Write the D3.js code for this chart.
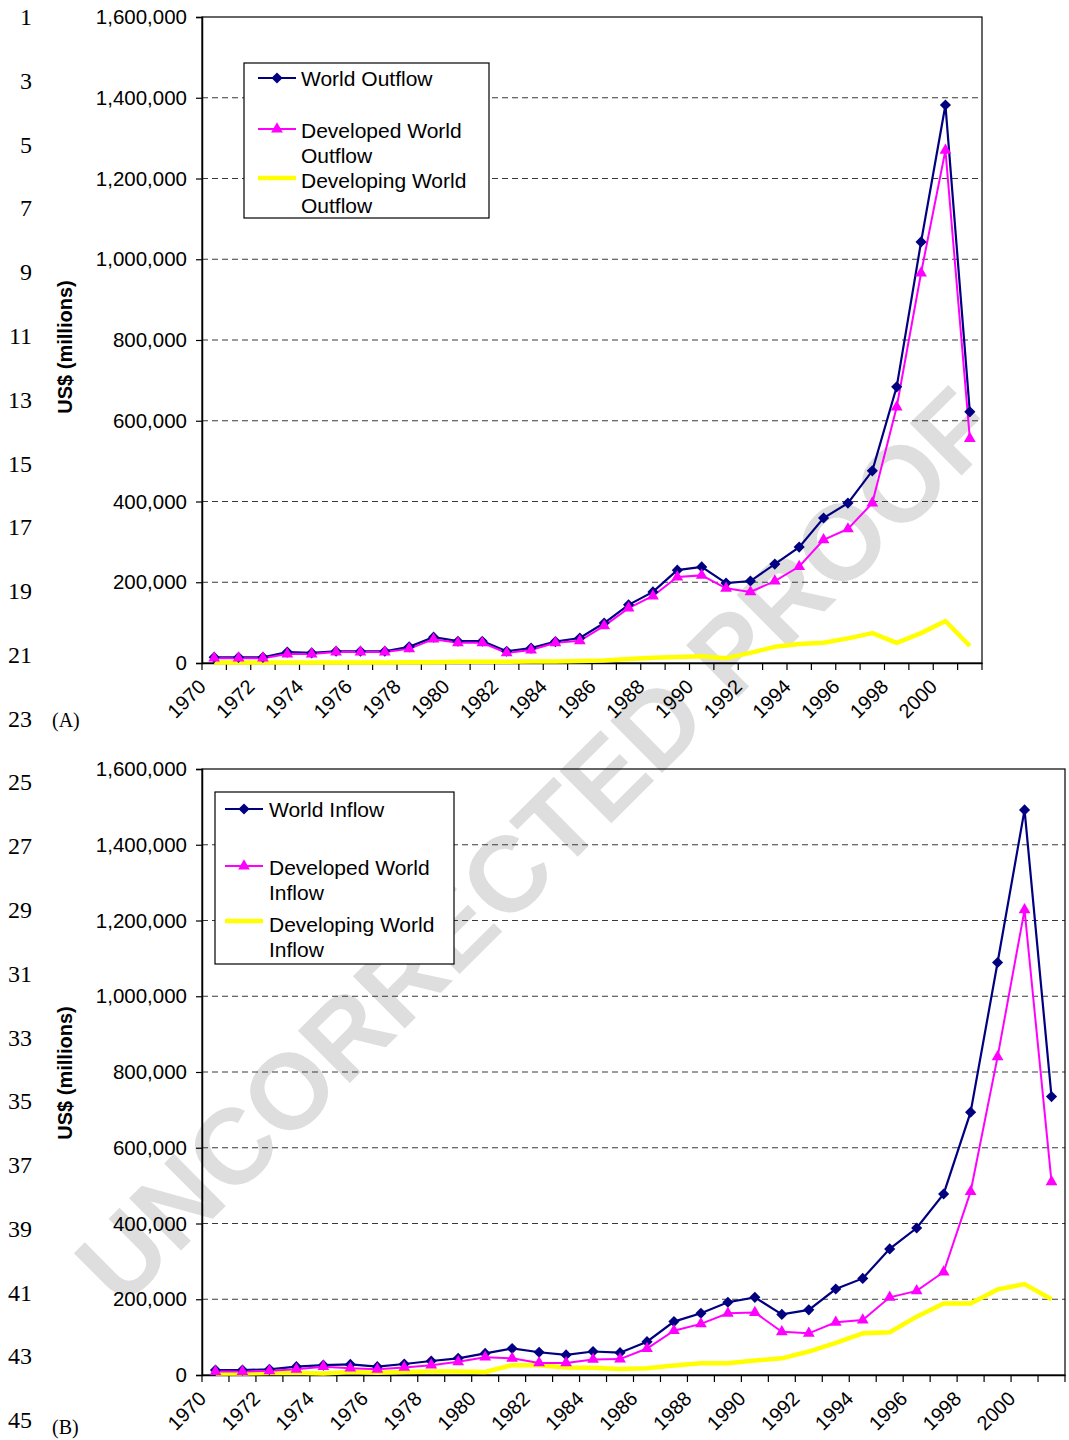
<!DOCTYPE html>
<html><head><meta charset="utf-8">
<script src="https://cdn.jsdelivr.net/npm/d3@7"></script>
<style>body{margin:0;background:#fff} svg{display:block}</style>
</head><body><svg id="c" width="1069" height="1440"></svg>
<script>
// ---------- DATA ----------
const years = [1970,1971,1972,1973,1974,1975,1976,1977,1978,1979,
               1980,1981,1982,1983,1984,1985,1986,1987,1988,1989,
               1990,1991,1992,1993,1994,1995,1996,1997,1998,1999,
               2000,2001];
const xLabelYears = [1970,1972,1974,1976,1978,1980,1982,1984,1986,1988,1990,1992,1994,1996,1998,2000];
const yTicks = [0,200000,400000,600000,800000,1000000,1200000,1400000,1600000];
const gridValues = [200000,400000,600000,800000,1000000,1200000,1400000];

// Panel A: outflows (US$ millions)
const worldOutflow = [14000,14000,14000,27000,25000,29000,29000,29000,40000,64000,
                      54000,54000,29000,37000,53000,62000,99000,144000,176000,230000,
                      238000,198000,203000,245000,287000,359000,396000,476000,684000,1043000,
                      1382000,622000];
const developedOutflow = [12000,12000,12000,22000,22000,27000,27000,27000,35000,59000,
                          50000,50000,25000,32000,50000,55000,92000,136000,166000,213000,
                          217000,185000,176000,203000,239000,305000,332000,396000,634000,966000,
                          1270000,556000];
const developingOutflow = [1000,1000,1000,1000,1000,1500,1500,1500,2000,2000,
                           3000,3000,3000,3500,4000,5000,6000,10000,13000,15000,
                           17000,12000,25000,40000,47000,50000,61000,74000,50000,74000,
                           104000,42000];

// Panel B: inflows (US$ millions)
const worldInflow = [13000,13000,15000,22000,26000,28000,22000,29000,37000,44000,
                     57000,70000,60000,53000,62000,59000,88000,141000,163000,192000,
                     205000,160000,172000,227000,255000,333000,388000,478000,694000,1089000,
                     1492000,735000];
const developedInflow = [9000,9000,11000,15000,22000,18000,15000,20000,26000,35000,
                         47000,44000,32000,32000,41000,42000,70000,117000,135000,163000,
                         165000,114000,110000,139000,145000,205000,222000,272000,484000,840000,
                         1228000,510000];
const developingInflow = [4000,4000,5000,6000,4000,8000,6000,8000,9000,9000,
                          8000,26000,26000,20000,19000,16000,18000,25000,31000,31000,
                          38000,44000,62000,85000,110000,113000,154000,189000,189000,226000,
                          240000,200000];

const lineNumbers = [1,3,5,7,9,11,13,15,17,19,21,23,25,27,29,31,33,35,37,39,41,43,45];
const panelLabels = ["(A)","(B)"];
const legendA = ["World Outflow", ["Developed World","Outflow"], ["Developing World","Outflow"]];
const legendB = ["World Inflow", ["Developed World","Inflow"], ["Developing World","Inflow"]];

// ---------- DRAW ----------
const SANS = "'Liberation Sans', Arial, Helvetica, sans-serif";
const SERIF = "'Liberation Serif', 'Times New Roman', serif";
const NAVY = "#000080", MAG = "#FF00FF", YEL = "#FFFF00";
const svg = d3.select("#c");

// watermark
svg.append("text")
  .attr("transform","translate(536,846) rotate(-44.8)")
  .attr("text-anchor","middle").attr("dominant-baseline","central")
  .style("font-family",SANS).style("font-weight","bold").style("font-size","107px")
  .attr("fill","#dedede")
  .text("UNCORRECTED PROOF");

// line numbers
const ln = d3.scaleLinear().domain([1,45]).range([17,1420]);
svg.append("g").selectAll("text").data(lineNumbers).join("text")
  .attr("x",32).attr("y",d=>ln(d)).attr("dy","0.34em")
  .attr("text-anchor","end")
  .style("font-family",SERIF).style("font-size","24px").attr("fill","#000")
  .text(d=>d);

function drawPanel(cfg){
  const x = d3.scaleBand().domain(years).range([cfg.left,cfg.right]);
  const bw = x.bandwidth();
  const y = d3.scaleLinear().domain([0,1600000]).range([cfg.bottom,cfg.top]);
  const g = svg.append("g");

  // grid
  g.selectAll("line.grid").data(gridValues).join("line")
    .attr("x1",cfg.left).attr("x2",cfg.right)
    .attr("y1",d=>y(d)).attr("y2",d=>y(d))
    .attr("stroke","#3a3a3a").attr("stroke-width",1).attr("stroke-dasharray","6,4");

  // frame
  g.append("rect").attr("x",cfg.left).attr("y",cfg.top)
    .attr("width",cfg.right-cfg.left).attr("height",cfg.bottom-cfg.top)
    .attr("fill","none").attr("stroke","#000").attr("stroke-width",1.2);

  // y axis
  const ya = g.append("g").attr("transform",`translate(${cfg.left},0)`)
    .call(d3.axisLeft(y).tickValues(yTicks).tickFormat(d3.format(",")).tickSize(6).tickPadding(9));
  ya.select(".domain").attr("stroke","#000").attr("stroke-width",1.5);
  ya.selectAll(".tick line").attr("stroke","#000").attr("stroke-width",1.2);
  ya.selectAll("text").style("font-family",SANS).style("font-size","20.5px").attr("fill","#000");

  // x axis with labels
  const xa = g.append("g").attr("transform",`translate(0,${cfg.bottom})`)
    .call(d3.axisBottom(x).tickValues(xLabelYears).tickSize(0).tickPadding(0));
  xa.select(".domain").attr("stroke","#000").attr("stroke-width",1.5);
  xa.selectAll("text")
    .attr("y",0).attr("dy","0.35em").attr("text-anchor","end")
    .attr("transform",`translate(${cfg.lblDx},${cfg.lblDy}) rotate(-45)`)
    .style("font-family",SANS).style("font-size","20px").attr("fill","#000");
  // category boundary ticks
  const bounds = years.map(d=>x(d)).concat([x.range()[1]]);
  g.append("g").selectAll("line").data(bounds).join("line")
    .attr("x1",d=>d).attr("x2",d=>d).attr("y1",cfg.bottom).attr("y2",cfg.bottom+7)
    .attr("stroke","#000").attr("stroke-width",1.2);

  // y title
  g.append("text").attr("transform",`translate(${cfg.titleX},${cfg.titleY}) rotate(-90)`)
    .attr("text-anchor","middle").attr("dominant-baseline","central")
    .style("font-family",SANS).style("font-weight","bold").style("font-size","20px")
    .text("US$ (millions)");

  // series
  const cx = (d,i)=>x(years[i])+bw/2;
  const line = d3.line().x(cx).y(d=>y(d));
  g.append("path").datum(cfg.dev).attr("d",line)
    .attr("fill","none").attr("stroke",YEL).attr("stroke-width",4.5).attr("stroke-linejoin","round");
  g.append("path").datum(cfg.world).attr("d",line)
    .attr("fill","none").attr("stroke",NAVY).attr("stroke-width",2.2);
  g.append("path").datum(cfg.developed).attr("d",line)
    .attr("fill","none").attr("stroke",MAG).attr("stroke-width",2);

  const diamond = d3.symbol().type(d3.symbolSquare).size(62)();
  const tri = d3.symbol().type(d3.symbolTriangle).size(60)();
  g.append("g").selectAll("path").data(cfg.world).join("path")
    .attr("d",diamond).attr("fill",NAVY)
    .attr("transform",(d,i)=>`translate(${cx(d,i)},${y(d)}) rotate(45)`);
  g.append("g").selectAll("path").data(cfg.developed).join("path")
    .attr("d",tri).attr("fill",MAG)
    .attr("transform",(d,i)=>`translate(${cx(d,i)},${y(d)})`);

  // legend
  const L = cfg.legend;
  const lg = g.append("g");
  lg.append("rect").attr("x",L.x).attr("y",L.y).attr("width",L.w).attr("height",L.h)
    .attr("fill","#fff").attr("stroke","#000").attr("stroke-width",1.2);
  const sx1 = L.x + L.s1, sx2 = L.x + L.s2, sm = (sx1+sx2)/2, tx = L.x + L.t;
  // entry 1
  lg.append("line").attr("x1",sx1).attr("x2",sx2).attr("y1",L.y1).attr("y2",L.y1).attr("stroke",NAVY).attr("stroke-width",2.2);
  lg.append("path").attr("d",diamond).attr("fill",NAVY).attr("transform",`translate(${sm},${L.y1}) rotate(45)`);
  // entry 2
  lg.append("line").attr("x1",sx1).attr("x2",sx2).attr("y1",L.y2).attr("y2",L.y2).attr("stroke",MAG).attr("stroke-width",2);
  lg.append("path").attr("d",tri).attr("fill",MAG).attr("transform",`translate(${sm},${L.y2})`);
  // entry 3
  lg.append("line").attr("x1",sx1).attr("x2",sx2).attr("y1",L.y3).attr("y2",L.y3).attr("stroke",YEL).attr("stroke-width",4.5);
  const texts = [[cfg.names[0],L.t1],[cfg.names[1][0],L.t2],[cfg.names[1][1],L.t2+25],[cfg.names[2][0],L.t3],[cfg.names[2][1],L.t3+25]];
  lg.selectAll("text").data(texts).join("text")
    .attr("x",tx).attr("y",d=>d[1]).attr("dy","0.36em")
    .style("font-family",SANS).style("font-size","21px").attr("fill","#000")
    .text(d=>d[0]);

  // panel label
  svg.append("text").attr("x",52).attr("y",cfg.plabelY)
    .style("font-family",SERIF).style("font-size","20px").text(cfg.plabel);
}

drawPanel({left:202,right:982,top:17,bottom:663,
  world:worldOutflow,developed:developedOutflow,dev:developingOutflow,
  names:legendA,titleX:65,titleY:347,lblDx:-12,lblDy:20,
  plabel:panelLabels[0],plabelY:727,
  legend:{x:244,y:63,w:245,h:155,s1:14,s2:52,t:57,y1:78,y2:129,y3:178,t1:78,t2:130,t3:180}});

drawPanel({left:202,right:1065,top:769,bottom:1375,
  world:worldInflow,developed:developedInflow,dev:developingInflow,
  names:legendB,titleX:65,titleY:1073,lblDx:-13,lblDy:20,
  plabel:panelLabels[1],plabelY:1434,
  legend:{x:215,y:792,w:239,h:172,s1:10,s2:48,t:54,y1:809,y2:866,y3:921,t1:809,t2:867,t3:924}});
</script>
</body></html>
